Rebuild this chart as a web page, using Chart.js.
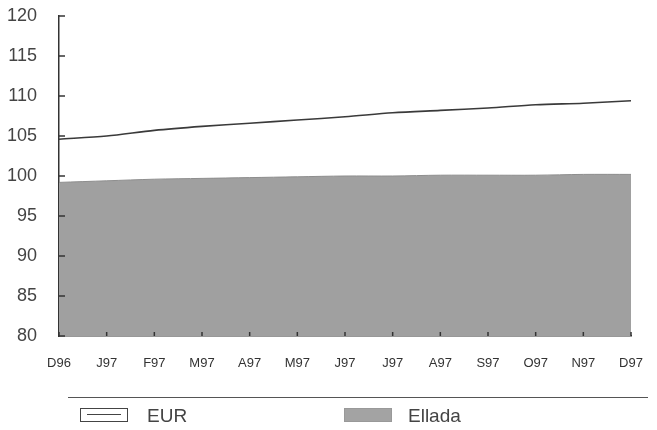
<!DOCTYPE html>
<html>
<head>
<meta charset="utf-8">
<script src="https://cdn.jsdelivr.net/npm/chart.js"></script>
<style>
  html, body { margin: 0; padding: 0; background: #fff; }
  #wrap { position: relative; width: 657px; height: 430px; }
  #legend { position: absolute; left: 0; top: 0; width: 657px; height: 430px; pointer-events: none;
            font-family: "Liberation Sans", Arial, sans-serif; color: #444; }
  .rule { position: absolute; left: 68px; top: 397px; width: 580px; height: 0; border-top: 1.5px solid #555; }
  .box { position: absolute; top: 408px; width: 48px; height: 14px; box-sizing: border-box; }
  .txt { position: absolute; top: 405px; font-size: 19px; }
</style>
</head>
<body>
<div id="wrap">
  <canvas id="chart" width="657" height="430"></canvas>
  <div id="legend">
    <div class="rule"></div>
    <div class="box" style="left:80px; border:1.5px solid #444; background:#fff;">
      <div style="position:absolute; left:6px; right:6px; top:5px; border-top:1.5px solid #444;"></div>
    </div>
    <div class="txt" style="left:147px;">EUR</div>
    <div class="box" style="left:344px; background:#a3a3a3; border:1px solid #999;"></div>
    <div class="txt" style="left:408px;">Ellada</div>
  </div>
</div>
<script>
// Months Dec 1996 - Dec 1997
const months = ["D96", "J97", "F97", "M97", "A97", "M97", "J97", "J97", "A97", "S97", "O97", "N97", "D97"];
const eurValues = [104.6, 105.0, 105.7, 106.2, 106.6, 107.0, 107.4, 107.9, 108.2, 108.5, 108.9, 109.1, 109.4];
const elladaValues = [99.2, 99.4, 99.6, 99.7, 99.8, 99.9, 100.0, 100.0, 100.1, 100.1, 100.1, 100.2, 100.2];
const yTicks = [80, 85, 90, 95, 100, 105, 110, 115, 120];

// small inward tick marks on both axes
const innerTicks = {
    id: 'innerTicks',
    afterDraw(chart) {
        const ctx = chart.ctx;
        const x = chart.scales.x, y = chart.scales.y;
        ctx.save();
        ctx.strokeStyle = '#333';
        ctx.lineWidth = 1.5;
        yTicks.forEach(v => {
            const py = y.getPixelForValue(v);
            ctx.beginPath();
            ctx.moveTo(x.left, py);
            ctx.lineTo(x.left + 6, py);
            ctx.stroke();
        });
        months.forEach((m, i) => {
            const px = x.getPixelForValue(i);
            ctx.beginPath();
            ctx.moveTo(px, y.bottom);
            ctx.lineTo(px, y.bottom - 4);
            ctx.stroke();
        });
        ctx.restore();
    }
};

new Chart(document.getElementById('chart').getContext('2d'), {
    type: 'line',
    data: {
        labels: months,
        datasets: [{
            label: 'Ellada',
            data: elladaValues,
            fill: 'start',
            backgroundColor: '#a0a0a0',
            borderColor: '#8e8e8e',
            borderWidth: 1,
            pointRadius: 0,
            tension: 0.3,
            order: 2
        }, {
            label: 'EUR',
            data: eurValues,
            fill: false,
            borderColor: '#3a3a3a',
            borderWidth: 1.6,
            pointRadius: 0,
            tension: 0.3,
            order: 1
        }]
    },
    options: {
        responsive: false,
        animation: false,
        layout: { padding: { top: 16, right: 26, bottom: 58, left: 0 } },
        plugins: {
            legend: { display: false },
            tooltip: { enabled: false }
        },
        scales: {
            x: {
                offset: false,
                grid: { display: false },
                border: { display: true, color: '#333', width: 1.5 },
                ticks: {
                    color: '#333',
                    font: { family: 'Liberation Sans', size: 13 },
                    padding: 12,
                    maxRotation: 0,
                    autoSkip: false
                },
                afterFit: s => { s.height = 36; s.paddingLeft = 0; s.paddingRight = 0; }
            },
            y: {
                min: 80,
                max: 120,
                grid: { display: false },
                border: { display: true, color: '#333', width: 1.5 },
                ticks: {
                    stepSize: 5,
                    color: '#444',
                    font: { family: 'Liberation Sans', size: 18 },
                    padding: 14
                },
                afterFit: s => { s.width = 59; s.paddingTop = 0; s.paddingBottom = 0; }
            }
        }
    },
    plugins: [innerTicks]
});
</script>
</body>
</html>
